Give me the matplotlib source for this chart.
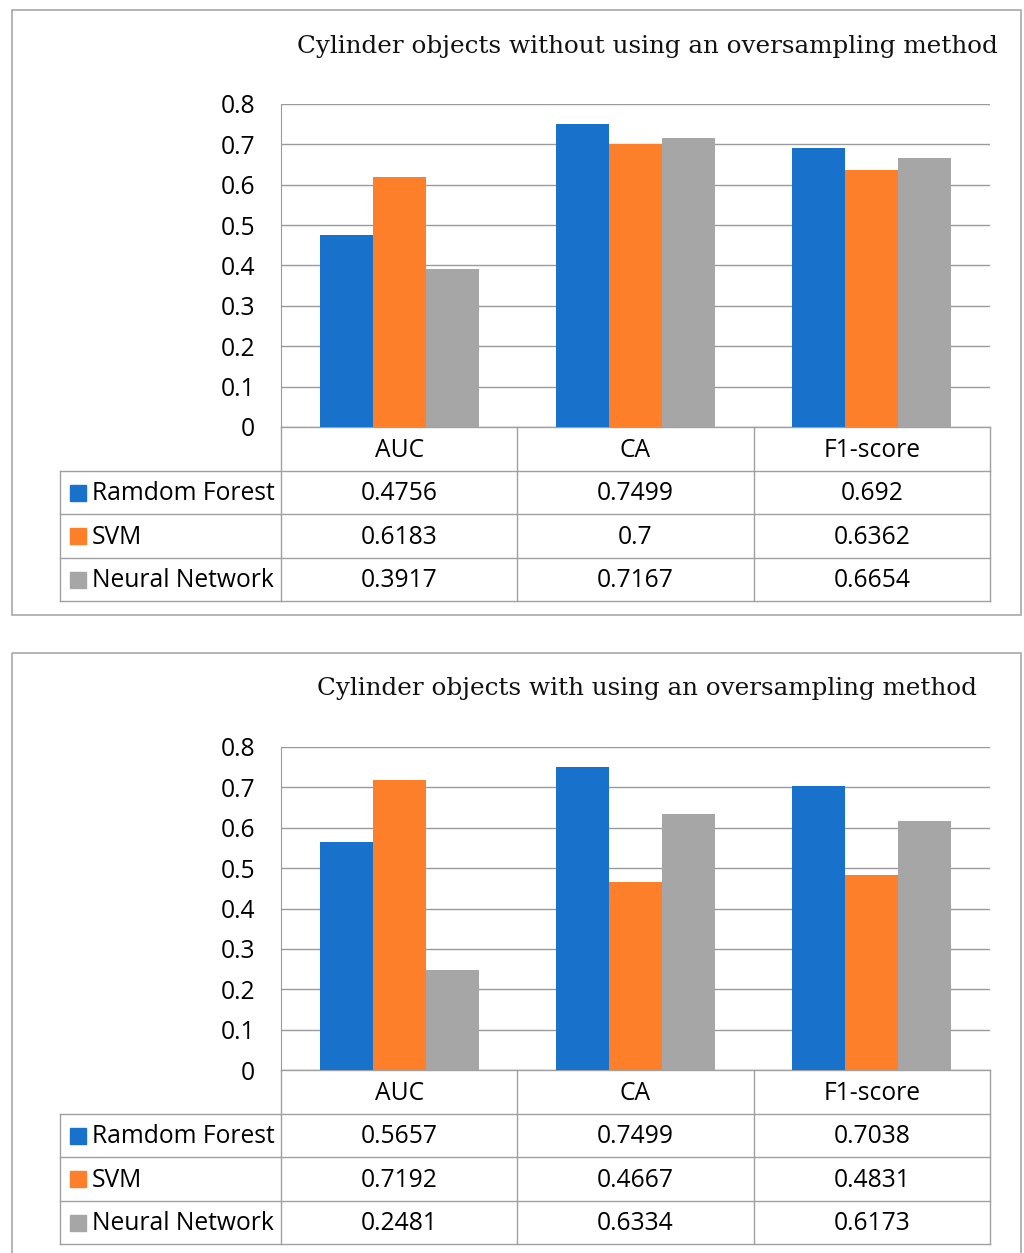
import matplotlib.pyplot as plt
from matplotlib.patches import Rectangle

W, H = 1024, 1253

metrics = ["AUC", "CA", "F1-score"]
models = ["Ramdom Forest", "SVM", "Neural Network"]
colors = ["#1872CB", "#FE7F2A", "#A6A6A6"]

# scores without oversampling
rf_plain = [0.4756, 0.7499, 0.692]
svm_plain = [0.6183, 0.7, 0.6362]
nn_plain = [0.3917, 0.7167, 0.6654]

# scores with oversampling
rf_over = [0.5657, 0.7499, 0.7038]
svm_over = [0.7192, 0.4667, 0.4831]
nn_over = [0.2481, 0.6334, 0.6173]

yticks = [0, 0.1, 0.2, 0.3, 0.4, 0.5, 0.6, 0.7, 0.8]

TITLE_FONT = "DejaVu Serif"
BODY_FONT = "Open Sans"
BODY_SIZE = 17.7
GRID = "#9A9A9A"
CELL = "#A0A0A0"

fig = plt.figure(figsize=(W / 100, H / 100), dpi=100)
bg = fig.add_axes([0, 0, 1, 1])
bg.set_xlim(0, W)
bg.set_ylim(H, 0)
bg.axis("off")


def px_axes(x0, y0, x1, y1):
    return fig.add_axes([x0 / W, 1 - y1 / H, (x1 - x0) / W, (y1 - y0) / H])


def panel(top, title, series):
    # frame around each chart
    bg.add_patch(Rectangle((12, top), 1009, 605, fill=False, edgecolor="#A8A8A8", lw=1.2))
    bg.text(647, top + 36, title, ha="center", va="center", fontsize=17.7,
            family=TITLE_FONT, color="#111111")

    ax_top, ax_bot = top + 94, top + 417
    x_left, x_right = 281, 990
    ax = px_axes(x_left, ax_top, x_right, ax_bot)
    width = 0.224
    for i, vals in enumerate(series):
        pos = [k + (i - 1) * width for k in range(len(metrics))]
        ax.bar(pos, vals, width=width, color=colors[i], zorder=3)
    ax.set_xlim(-0.5, len(metrics) - 0.5)
    ax.set_ylim(0, 0.8)
    ax.set_yticks(yticks)
    ax.set_yticklabels([f"{t:g}" for t in yticks], fontsize=BODY_SIZE, family=BODY_FONT)
    ax.tick_params(axis="y", length=0, pad=18.5)
    ax.set_xticks([])
    ax.grid(axis="y", color=GRID, lw=1, zorder=0)
    for s in ["top", "right", "bottom"]:
        ax.spines[s].set_visible(False)
    ax.spines["left"].set_color(GRID)
    ax.patch.set_alpha(0)

    # data table under the bars
    row_h = 43.5
    col_edges = [x_left + k * (x_right - x_left) / 3 for k in range(4)]
    t0 = ax_bot
    t_end = t0 + 4 * row_h
    bg.plot([x_left, x_right], [t0, t0], color=CELL, lw=1)
    for r in range(1, 5):
        y = t0 + r * row_h
        bg.plot([60, x_right], [y, y], color=CELL, lw=1)
    bg.plot([60, 60], [t0 + row_h, t_end], color=CELL, lw=1)
    for x in col_edges:
        bg.plot([x, x], [t0, t_end], color=CELL, lw=1)
    for k, m in enumerate(metrics):
        xc = (col_edges[k] + col_edges[k + 1]) / 2
        bg.text(xc, t0 + row_h / 2 + 2, m, ha="center", va="center",
                fontsize=BODY_SIZE, family=BODY_FONT)
    for r, (name, vals) in enumerate(zip(models, series)):
        yc = t0 + (r + 1.5) * row_h
        bg.add_patch(Rectangle((70, yc - 7.5), 16, 16, color=colors[r]))
        bg.text(92, yc + 1.5, name, ha="left", va="center", fontsize=BODY_SIZE,
                family=BODY_FONT)
        for k, v in enumerate(vals):
            xc = (col_edges[k] + col_edges[k + 1]) / 2
            bg.text(xc, yc + 1.5, f"{v:g}", ha="center", va="center",
                    fontsize=BODY_SIZE, family=BODY_FONT)


panel(10, "Cylinder objects without using an oversampling method",
      [rf_plain, svm_plain, nn_plain])
panel(653, "Cylinder objects with using an oversampling method",
      [rf_over, svm_over, nn_over])

fig.savefig("out.png", dpi=100)
